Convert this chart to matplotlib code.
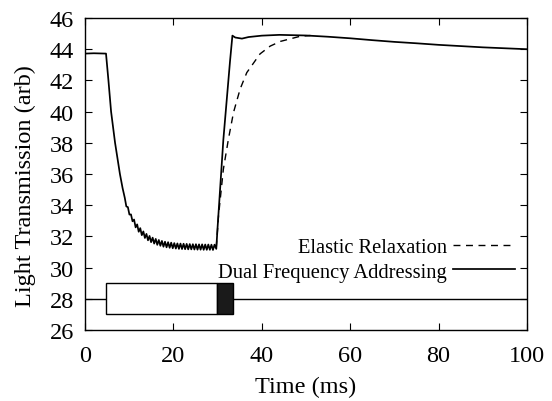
#!/usr/bin/env python3
"""Light transmission response: dual frequency addressing vs elastic relaxation"""

import matplotlib
matplotlib.use("Agg")
import matplotlib.pyplot as plt
from matplotlib.patches import Rectangle

# Dual frequency addressing trace (ms, arb)
# plateau + drop while the low frequency is applied
drop_t = [0, 2, 4.75, 5.3, 5.9, 6.8, 7.9, 8.5]
drop_y = [43.72, 43.74, 43.72, 42.0, 40.0, 38.0, 36.0, 35.1]

# noisy floor (ripple of the drive shows up in the transmission)
floor_t = [9.0, 9.35, 9.7, 10.05, 10.4, 10.75, 11.1, 11.45, 11.8, 12.15,
           12.5, 12.85, 13.2, 13.55, 13.9, 14.25, 14.6, 14.95, 15.3, 15.65,
           16.0, 16.35, 16.7, 17.05, 17.4, 17.75, 18.1, 18.45, 18.8, 19.15,
           19.5, 19.85, 20.2, 20.55, 20.9, 21.25, 21.6, 21.95, 22.3, 22.65,
           23.0, 23.35, 23.7, 24.05, 24.4, 24.75, 25.1, 25.45, 25.8, 26.15,
           26.5, 26.85, 27.2, 27.55, 27.9, 28.25, 28.6, 28.95, 29.3]
floor_y = [34.47, 33.92, 33.88, 33.40, 33.41, 32.97, 33.08, 32.58, 32.77,
           32.30, 32.53, 32.08, 32.32, 31.90, 32.16, 31.75, 32.03, 31.63,
           31.92, 31.54, 31.84, 31.46, 31.77, 31.40, 31.71, 31.34, 31.66,
           31.30, 31.63, 31.27, 31.60, 31.24, 31.57, 31.22, 31.55, 31.20,
           31.54, 31.19, 31.53, 31.18, 31.52, 31.17, 31.51, 31.17, 31.50,
           31.16, 31.50, 31.15, 31.49, 31.15, 31.49, 31.14, 31.48, 31.14,
           31.48, 31.14, 31.47, 31.13, 31.47]

# fast switch-back with the high frequency pulse, then slow drift
rise_t = [29.7, 30.0, 31.3, 32.8, 33.35, 34.0, 35.5, 37, 40, 44, 50, 55, 60,
          65, 70, 75, 80, 85, 90, 95, 100]
rise_y = [31.2, 32.6, 38.2, 43.2, 44.87, 44.75, 44.68, 44.78, 44.87, 44.92,
          44.88, 44.8, 44.7, 44.58, 44.47, 44.38, 44.28, 44.2, 44.12, 44.06,
          44.0]

# Elastic relaxation trace (only where it departs from the other one)
elastic_t = [29.7, 30.2, 31.3, 32.45, 33.6, 35.1, 36.6, 39.6, 41.9, 44.2,
             48.7, 51]
elastic_y = [31.3, 33.3, 36.3, 38.24, 39.95, 41.45, 42.5, 43.7, 44.2, 44.5,
             44.83, 44.88]

# drive waveform drawn at the bottom
pulse_level = 28
pulse_half = 1
low_freq_on = [4.75, 29.8]
high_freq_on = [29.8, 33.4]

dual_t = drop_t + floor_t + rise_t
dual_y = drop_y + floor_y + rise_y

plt.rcParams['font.family'] = ['Liberation Serif', 'DejaVu Serif']

fig = plt.figure(figsize=(5.52, 4.02), dpi=100)
ax = fig.add_axes([0.154, 0.1766, 0.8007, 0.7761])

ax.plot(elastic_t, elastic_y, color='black', lw=1.0, dashes=(5, 4),
        label='Elastic Relaxation')
ax.plot(dual_t, dual_y, color='black', lw=1.25,
        label='Dual Frequency Addressing')

ax.axhline(pulse_level, color='black', lw=1.0, zorder=1)
ax.add_patch(Rectangle((low_freq_on[0], pulse_level - pulse_half),
                       low_freq_on[1] - low_freq_on[0], 2 * pulse_half,
                       facecolor='white', edgecolor='black', lw=1.0, zorder=2))
ax.add_patch(Rectangle((high_freq_on[0], pulse_level - pulse_half),
                       high_freq_on[1] - high_freq_on[0], 2 * pulse_half,
                       facecolor='#1a1a1a', edgecolor='black', lw=1.0, zorder=2))

ax.set_xlim(0, 100)
ax.set_ylim(26, 46)
ax.set_xticks(range(0, 101, 20))
ax.set_yticks(range(26, 47, 2))
ax.tick_params(direction='in', top=True, right=True, length=5, width=0.8,
               labelsize=17.5)
ax.tick_params(axis='x', pad=11)
ax.tick_params(axis='y', pad=8)
for s in ax.spines.values():
    s.set_linewidth(1.0)

ax.set_xlabel('Time (ms)', fontsize=17.5, labelpad=7)
ax.set_ylabel('Light Transmission (arb)', fontsize=17.5, labelpad=10, y=0.466)

ax.legend(loc='lower right', bbox_to_anchor=(0.973, 0.155), frameon=False,
          markerfirst=False, handlelength=3.0, handletextpad=0.3,
          labelspacing=0.25, borderpad=0, borderaxespad=0, fontsize=14.8)

fig.savefig('out.png', dpi=100)
